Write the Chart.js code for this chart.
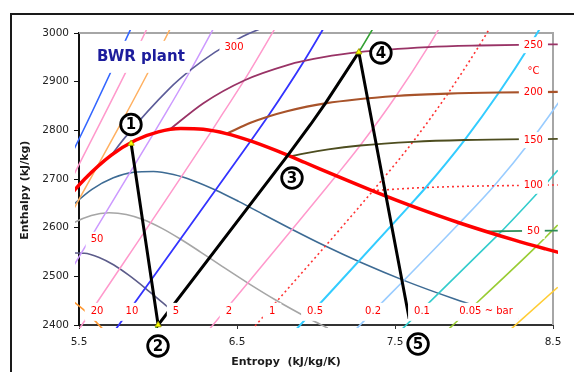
<!DOCTYPE html>
<html>
<head>
<meta charset="utf-8">
<script src="https://cdn.jsdelivr.net/npm/chart.js@4.4.1/dist/chart.umd.min.js"></script>
<style>
  html, body { margin: 0; padding: 0; background: #fff; }
  #wrap { position: relative; width: 574px; height: 372px; overflow: hidden; }
  #frame { position: absolute; left: 10px; top: 13px; width: 600px; height: 400px; border: 2px solid #1a1a1a; }
  #mollier { position: absolute; left: 0; top: 0; }
</style>
</head>
<body>
<div id="wrap"><div id="frame"></div><canvas id="mollier" width="574" height="372"></canvas></div>
<script>
// saturated vapour line: entropy (kJ/kg/K) and enthalpy (kJ/kg)
var satS = [5.4417, 5.5362, 5.7045, 5.8571, 6.0019, 6.1437, 6.2861, 6.4323, 6.5857, 6.7502, 6.9299, 7.1296, 7.3549, 7.6122, 7.9096, 8.2570, 8.4533, 8.5580];
var satH = [2665.9, 2700.1, 2749.0, 2779.6, 2796.9, 2803.8, 2802.1, 2793.2, 2778.2, 2758.1, 2733.9, 2706.3, 2676.1, 2643.7, 2609.6, 2574.3, 2556.3, 2547.2];

// constant dryness lines in the wet region
var x95S = [5.4318, 5.5819, 5.7176, 5.8460, 5.9716, 6.0977, 6.2272, 6.3634, 6.5098, 6.6704, 6.8495, 7.0525, 7.2854, 7.5557, 7.8728, 8.0525, 8.2487, 8.2800];
var x95H = [2638.2, 2678.7, 2702.4, 2713.8, 2715.5, 2709.2, 2696.1, 2677.5, 2654.0, 2626.6, 2596.2, 2563.2, 2528.3, 2491.7, 2453.9, 2434.8, 2415.4, 2412.0];
var x90S = [5.3274, 5.4594, 5.5781, 5.6901, 5.7995, 5.9093, 6.0222, 6.1411, 6.2695, 6.4108, 6.5694, 6.7501, 6.9585, 7.0753];
var x90H = [2576.2, 2608.4, 2625.2, 2630.6, 2627.2, 2616.3, 2599.1, 2576.7, 2549.9, 2519.4, 2486.1, 2450.3, 2412.8, 2393.4];
var x85S = [5.1580, 5.3368, 5.4386, 5.5342, 5.6274, 5.7209, 5.8171, 5.9188, 6.0291, 6.1513];
var x85H = [2494.8, 2538.2, 2548.1, 2547.5, 2538.9, 2523.4, 2502.0, 2476.0, 2445.8, 2412.1];
var x80S = [5.3783, 5.4553, 5.5324, 5.6120, 5.6535];
var x80H = [2464.4, 2450.5, 2430.4, 2405.0, 2390.7];

// isobars (bar)
var p200S = [5.4000, 5.5540, 5.9017];
var p200H = [2716.0, 2818.1, 3060.1];
var p150S = [5.4421, 5.8811, 6.1404];
var p150H = [2692.4, 2975.5, 3156.2];
var p100S = [5.4000, 5.6141, 5.7568, 5.9443, 6.2120];
var p100H = [2599.6, 2724.7, 2809.1, 2923.4, 3096.5];
var p50S = [5.4000, 5.9734, 6.0544, 6.2084, 6.4493];
var p50H = [2486.3, 2794.3, 2838.3, 2924.5, 3068.4];
var p20S = [5.4976, 6.3409, 6.4147, 6.5453, 6.7664];
var p20H = [2390.0, 2799.5, 2836.8, 2902.5, 3023.5];
var p10S = [5.7298, 6.5865, 6.6940, 6.9247, 7.1229];
var p10H = [2390.0, 2778.1, 2827.9, 2942.6, 3051.2];
var p5S = [5.9774, 6.8213, 6.9656, 7.0592, 7.2709, 7.4599];
var p5H = [2390.0, 2748.7, 2812.0, 2855.4, 2960.7, 3064.2];
var p2S = [6.3221, 7.1272, 7.2795, 7.5066, 7.7086, 7.8926];
var p2H = [2390.0, 2706.7, 2768.8, 2870.5, 2971.0, 3071.8];
var p1S = [6.5936, 7.3594, 7.6134, 7.8343, 8.0333, 8.2158];
var p1H = [2390.0, 2675.5, 2776.4, 2875.3, 2974.3, 3074.3];
var p05S = [6.8720, 7.5939, 7.6947, 7.9401, 8.1580, 8.3556, 8.5373];
var p05H = [2390.0, 2645.9, 2682.5, 2780.1, 2877.7, 2976.0, 3075.5];
var p02S = [7.2491, 7.9085, 8.1280, 8.3683, 8.5839];
var p02H = [2390.0, 2609.7, 2686.3, 2782.3, 2879.2];
var p01S = [7.5399, 8.1502, 8.1749, 8.4479, 8.5300];
var p01H = [2390.0, 2584.7, 2592.6, 2687.5, 2718.0];
var p005S = [7.8346, 8.3951, 8.4948, 8.5300];
var p005H = [2390.0, 2561.5, 2594.0, 2605.5];
var p002S = [8.2286, 8.5300];
var p002H = [2390.0, 2477.6];

// isotherms (degC) in the superheated region
var t300S = [5.7045, 5.7906, 6.0674, 6.2084, 6.3615, 6.5390, 6.7664];
var t300H = [2749.0, 2785.0, 2884.2, 2924.5, 2960.7, 2993.5, 3023.5];
var t250S = [6.0730, 6.2872, 6.5453, 6.8293, 6.9247, 7.0384, 7.2709, 7.7086, 8.0333, 8.3556, 8.5300];
var t250H = [2801.5, 2855.8, 2902.5, 2935.0, 2942.6, 2950.0, 2960.7, 2971.0, 2974.3, 2976.0, 2976.7];
var t200S = [6.4323, 6.5898, 6.6940, 6.8158, 7.0592, 7.5066, 7.8343, 8.1580, 8.5300];
var t200H = [2793.2, 2815.9, 2827.9, 2839.3, 2855.4, 2870.5, 2875.3, 2877.7, 2879.0];
var t150S = [6.8379, 6.9299, 7.0778, 7.2795, 7.6134, 7.9401, 8.5300];
var t150H = [2746.5, 2752.8, 2761.0, 2768.8, 2776.4, 2780.1, 2782.6];
var t100S = [7.3549, 7.6947, 8.4479, 8.5300];
var t100H = [2676.1, 2682.5, 2687.5, 2687.8];
var t50S = [8.0763, 8.1749, 8.4948, 8.5300];
var t50H = [2592.1, 2592.6, 2594.0, 2594.1];

// BWR cycle 1-2-3-4-5
var cycleS = [5.830, 6.0009, 6.8213, 6.9656, 7.0592, 7.2709, 7.590];
var cycleH = [2773.0, 2400.0, 2748.7, 2812.0, 2855.4, 2960.7, 2413.0];
var markS = [5.830, 6.0009, 7.2709];
var markH = [2773.0, 2400.0, 2960.7];

// text on the chart
var stateTags = ['1', '2', '3', '4', '5'];
var stateTagS = [5.829, 6.000, 6.848, 7.411, 7.646];
var stateTagH = [2812, 2357, 2702, 2959, 2361];
var pLabels = ['20', '10', '5', '2', '1', '0.5', '0.2', '0.1', '0.05 ~ bar'];
var pLabelS = [5.614, 5.835, 6.114, 6.449, 6.722, 6.994, 7.361, 7.671, 8.076];
var pLabelH = 2427;
var tLabels = ['250', '°C', '200', '150', '100', '50'];
var tLabelH = [2975, 2922, 2877, 2780, 2686, 2593];
var tLabelS = 8.376;
var extraLabels = ['50', '300'];
var extraS = [5.614, 6.481];
var extraH = [2575, 2971];

function pts(s, h) {
    return s.map(function (v, i) { return {x: v, y: h[i]}; });
}

function curve(label, s, h, color, width, order, dash) {
    return {
        label: label,
        data: pts(s, h),
        borderColor: color,
        borderWidth: width,
        borderDash: dash || [],
        pointRadius: 0,
        fill: false,
        order: order,
        cubicInterpolationMode: 'monotone',
        clip: {left: 4, top: 3, right: 5, bottom: 3}
    };
}

function boxLabel(ctx, text, px, py, color, font, padX, boxH) {
    ctx.font = font;
    var w = ctx.measureText(text).width + 2 * padX;
    ctx.fillStyle = '#fff';
    ctx.fillRect(px - w / 2, py - boxH / 2, w, boxH);
    ctx.fillStyle = color;
    ctx.textAlign = 'center';
    ctx.textBaseline = 'middle';
    ctx.fillText(text, px, py);
}

var decor = {
    id: 'decor',
    beforeDatasetsDraw: function (chart) {
        var c = chart.ctx, a = chart.chartArea;
        c.save();
        c.strokeStyle = '#a6a6a6';
        c.lineWidth = 2;
        c.beginPath();
        c.moveTo(a.left, a.top);
        c.lineTo(a.right, a.top);
        c.lineTo(a.right, a.bottom);
        c.stroke();
        c.restore();
    },
    afterDatasetsDraw: function (chart) {
        var c = chart.ctx, xs = chart.scales.x, ys = chart.scales.y;
        var lf = '10px "DejaVu Sans"';
        c.save();
        pLabels.forEach(function (t, i) {
            boxLabel(c, t, xs.getPixelForValue(pLabelS[i]), ys.getPixelForValue(pLabelH), '#ff0000', lf, 6, 18);
        });
        tLabels.forEach(function (t, i) {
            boxLabel(c, t, xs.getPixelForValue(tLabelS), ys.getPixelForValue(tLabelH[i]), '#ff0000', lf, 5, 16);
        });
        extraLabels.forEach(function (t, i) {
            boxLabel(c, t, xs.getPixelForValue(extraS[i]), ys.getPixelForValue(extraH[i]), '#ff0000', lf, 5, 16);
        });
        boxLabel(c, 'BWR plant', xs.getPixelForValue(5.892), ys.getPixelForValue(2951), '#1c1c9c', 'bold 15px "DejaVu Sans"', 5, 32);
        c.restore();
    },
    afterDraw: function (chart) {
        var c = chart.ctx, xs = chart.scales.x, ys = chart.scales.y, a = chart.chartArea;
        c.save();
        // axis titles
        c.fillStyle = '#1a1a1a';
        c.font = 'bold 11px "DejaVu Sans"';
        c.textAlign = 'center';
        c.textBaseline = 'middle';
        c.fillText('Entropy  (kJ/kg/K)', xs.getPixelForValue(6.81), a.bottom + 37);
        c.translate(25, ys.getPixelForValue(2677));
        c.rotate(-Math.PI / 2);
        c.fillText('Enthalpy (kJ/kg)', 0, 0);
        c.restore();
        // circled state numbers
        c.save();
        stateTags.forEach(function (t, i) {
            var px = xs.getPixelForValue(stateTagS[i]), py = ys.getPixelForValue(stateTagH[i]);
            c.beginPath();
            c.arc(px, py, 10.3, 0, 2 * Math.PI);
            c.fillStyle = '#fff';
            c.fill();
            c.lineWidth = 2.8;
            c.strokeStyle = '#000';
            c.stroke();
            c.fillStyle = '#000';
            c.font = 'bold 15px "DejaVu Sans"';
            c.textAlign = 'center';
            c.textBaseline = 'middle';
            c.fillText(t, px, py + 1);
        });
        c.restore();
    }
};

Chart.defaults.font.family = '"DejaVu Sans", sans-serif';

var datasets = [
    {
        label: 'state points',
        data: pts(markS, markH),
        showLine: false,
        pointStyle: 'triangle',
        pointRadius: 3.5,
        pointBackgroundColor: '#ffff00',
        pointBorderColor: '#a8a800',
        pointBorderWidth: 1,
        order: 0,
        clip: false
    },
    {
        label: 'cycle',
        data: pts(cycleS, cycleH),
        borderColor: '#000',
        borderWidth: 3,
        pointRadius: 0,
        tension: 0,
        order: 1,
        clip: {left: 4, top: 3, right: 5, bottom: 3}
    },
    curve('saturated vapour', satS, satH, '#ff0000', 3.5, 2),
    curve('300 C', t300S, t300H, '#5c5c99', 1.6, 3),
    curve('250 C', t250S, t250H, '#993366', 1.8, 3),
    curve('200 C', t200S, t200H, '#a8532a', 2.2, 3),
    curve('150 C', t150S, t150H, '#4d4d1f', 1.8, 3),
    curve('100 C', t100S, t100H, '#ff3333', 1.6, 3, [2, 3]),
    curve('50 C', t50S, t50H, '#2e8b57', 1.8, 3),
    curve('200 bar', p200S, p200H, '#3366ff', 1.6, 4),
    curve('150 bar', p150S, p150H, '#ff99cc', 1.5, 4),
    curve('100 bar', p100S, p100H, '#ffb060', 1.5, 4),
    curve('50 bar', p50S, p50H, '#cc99ff', 1.5, 4),
    curve('20 bar', p20S, p20H, '#ff99cc', 1.5, 4),
    curve('10 bar', p10S, p10H, '#3333ff', 1.8, 4),
    curve('5 bar', p5S, p5H, '#33a033', 1.6, 4),
    curve('2 bar', p2S, p2H, '#ff99cc', 1.5, 4),
    curve('1 bar', p1S, p1H, '#ff3333', 1.6, 4, [2, 3]),
    curve('0.5 bar', p05S, p05H, '#33ccff', 2, 4),
    curve('0.2 bar', p02S, p02H, '#99ccff', 1.6, 4),
    curve('0.1 bar', p01S, p01H, '#33cccc', 1.6, 4),
    curve('0.05 bar', p005S, p005H, '#99cc33', 1.6, 4),
    curve('0.02 bar', p002S, p002H, '#ffcc33', 1.6, 4),
    curve('x = 0.95', x95S, x95H, '#3d6b94', 1.6, 5),
    curve('x = 0.90', x90S, x90H, '#a6a6a6', 1.6, 5),
    curve('x = 0.85', x85S, x85H, '#5c5c8a', 1.6, 5),
    curve('x = 0.80', x80S, x80H, '#ff9933', 1.6, 5)
];

new Chart(document.getElementById('mollier'), {
    type: 'line',
    data: {datasets: datasets},
    options: {
        responsive: false,
        animation: false,
        devicePixelRatio: 1,
        layout: {padding: {left: 0, right: 21, top: 33, bottom: 0}},
        plugins: {legend: {display: false}, tooltip: {enabled: false}},
        scales: {
            x: {
                type: 'linear',
                min: 5.5,
                max: 8.5,
                afterFit: function (s) { s.height = 47; },
                border: {color: '#333', width: 2},
                grid: {drawOnChartArea: false, tickLength: 4, color: '#333'},
                ticks: {
                    stepSize: 1,
                    padding: 7,
                    color: '#222',
                    font: {size: 10.5},
                    callback: function (v) { return v.toFixed(1); }
                }
            },
            y: {
                min: 2400,
                max: 3000,
                afterFit: function (s) { s.width = 79; },
                border: {color: '#111', width: 2},
                grid: {drawOnChartArea: false, tickLength: 5, color: '#111'},
                ticks: {
                    stepSize: 100,
                    padding: 5,
                    color: '#222',
                    font: {size: 10.5},
                    callback: function (v) { return String(v); }
                }
            }
        }
    },
    plugins: [decor]
});
</script>
</body>
</html>
